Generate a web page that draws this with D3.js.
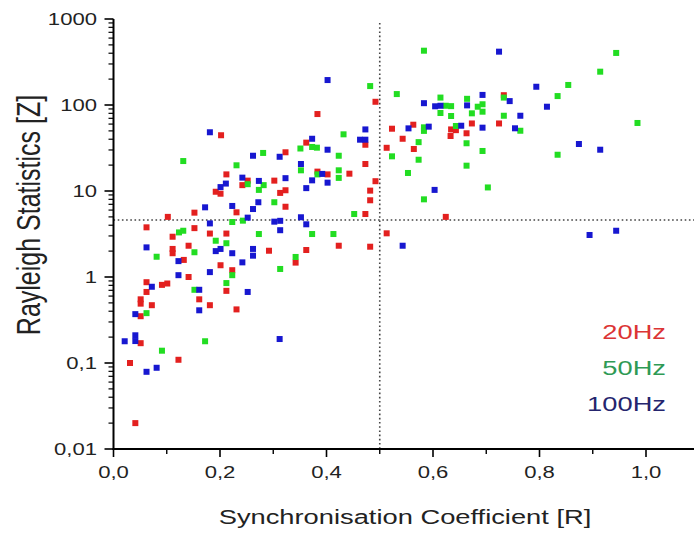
<!DOCTYPE html>
<html><head><meta charset="utf-8">
<script src="https://cdn.jsdelivr.net/npm/d3@7"></script>
<style>body{margin:0;background:#fff}svg{display:block}</style>
</head><body>
<svg id="c" width="694" height="534"></svg>
<script>
// ---- data (R, Z) ----
const red20 = [
[0.202,44.5],[0.323,28.2],[0.212,15.6],[0.252,13.2],[0.242,11.7],[0.302,13.2],[0.323,10.2],[0.313,9.5],
[0.192,9.8],[0.201,9.3],[0.323,6.56],[0.152,5.6],[0.102,5.0],[0.231,5.65],[0.062,3.78],[0.152,3.7],
[0.181,3.2],[0.212,3.2],[0.111,2.94],[0.111,2.12],[0.111,1.89],[0.132,1.58],[0.141,2.31],[0.201,1.37],
[0.223,1.2],[0.292,2.02],[0.342,1.47],[0.141,1.0],[0.062,0.87],[0.062,0.67],[0.091,0.81],[0.101,0.84],
[0.051,0.55],[0.051,0.49],[0.072,0.47],[0.051,0.35],[0.161,0.55],[0.181,0.47],[0.212,0.69],[0.231,0.42],
[0.051,0.17],[0.031,0.10],[0.122,0.109],[0.041,0.02],
[0.383,78.5],[0.492,109],[0.362,36.5],[0.473,34.5],[0.523,53],[0.563,59],[0.543,40.5],[0.513,31.8],
[0.564,30.8],[0.634,52],[0.643,51],[0.633,43.6],[0.673,61],[0.663,46.9],[0.383,16.8],[0.402,15.6],
[0.443,15.9],[0.473,20.6],[0.492,13.0],[0.482,10.1],[0.482,7.8],[0.473,5.4],[0.624,5.0],[0.513,3.22],
[0.362,2.06],[0.423,2.31],[0.482,2.25],[0.733,130],[0.724,61]
];
const green50 = [
[0.131,22.3],[0.281,27.7],[0.351,31.2],[0.231,19.9],[0.252,12.0],[0.282,11.7],[0.273,10.3],[0.302,7.4],
[0.223,4.36],[0.243,4.52],[0.123,3.3],[0.131,3.45],[0.273,3.16],[0.081,1.72],[0.152,1.94],[0.192,2.64],
[0.212,2.47],[0.223,1.05],[0.313,1.24],[0.062,0.38],[0.152,0.71],[0.212,0.85],[0.172,0.179],[0.091,0.139],
[0.342,1.71],
[0.583,428],[0.482,166],[0.532,134],[0.614,122],[0.624,98],[0.634,97],[0.614,80.7],[0.634,74.5],
[0.664,118],[0.684,95.5],[0.693,102],[0.693,83.6],[0.673,80],[0.373,32.5],[0.382,31.9],[0.432,45.6],
[0.583,55],[0.583,50],[0.573,37],[0.523,25.3],[0.573,23.1],[0.553,16.2],[0.583,8.0],[0.703,11.0],
[0.643,57],[0.663,35.9],[0.693,29.2],[0.663,19.7],[0.352,17.4],[0.383,15.6],[0.423,25.7],[0.423,17.4],
[0.423,14.2],[0.452,5.4],[0.373,3.16],[0.413,3.16],
[0.944,403],[0.914,244],[0.854,171],[0.834,127],[0.733,122],[0.733,75],[0.764,50.2],[0.984,61.8],[0.834,26.4]
];
const blue100 = [
[0.181,48.2],[0.262,25.7],[0.312,25],[0.242,14.3],[0.211,12.2],[0.201,11.1],[0.273,13.1],[0.323,14.1],
[0.272,7.4],[0.172,6.46],[0.223,6.7],[0.262,6.17],[0.252,4.9],[0.181,4.2],[0.302,4.4],[0.313,4.5],
[0.313,3.5],[0.062,2.21],[0.122,1.53],[0.192,2.0],[0.201,2.12],[0.223,1.89],[0.181,1.14],[0.242,1.48],
[0.262,2.12],[0.262,1.77],[0.122,1.05],[0.072,0.77],[0.041,0.37],[0.161,0.71],[0.161,0.41],[0.252,0.67],
[0.312,0.19],[0.021,0.179],[0.041,0.21],[0.041,0.18],[0.062,0.079],[0.081,0.088],
[0.402,195],[0.583,105],[0.604,96.6],[0.614,98],[0.664,99],[0.693,131],[0.402,30.2],[0.373,40.5],
[0.473,52],[0.463,39.5],[0.473,39.5],[0.554,53.5],[0.592,56],[0.603,10.3],[0.653,57.4],[0.693,54.5],
[0.352,20.6],[0.362,10.8],[0.373,13.3],[0.392,15.8],[0.402,12.5],[0.352,4.95],[0.362,4.1],[0.543,2.31],
[0.724,417],[0.794,163],[0.744,111],[0.814,95.5],[0.764,75],[0.754,53.6],[0.874,35.2],[0.914,30.2],
[0.894,3.08],[0.944,3.45]
];
const seriesNames = ["20Hz","50Hz","100Hz"];
const xTicks = [0,0.2,0.4,0.6,0.8,1.0];
const xTickLabels = ["0,0","0,2","0,4","0,6","0,8","1,0"];
const yTicks = [0.01,0.1,1,10,100,1000];
const yTickLabels = ["0,01","0,1","1","10","100","1000"];
const thresholdZ = 4.6;
const thresholdR = 0.5;
const xTitle = "Synchronisation Coefficient [R]";
const yTitle = "Rayleigh Statistics [Z]";

// ---- drawing ----
const svg = d3.select("#c");
const x = d3.scaleLinear().domain([0,1.1]).range([113.5, 699.25]);
const y = d3.scaleLog().domain([0.01,1000]).range([449,19]);
const markColors = ["#e3201f","#22dd22","#1717d0"];
const textColors = ["#dc3535","#2f9a55","#25256e"];
const SX = 1.3; // horizontal stretch of the original figure's text

// threshold lines
svg.append("line").attr("x1",x(0)).attr("x2",694).attr("y1",y(thresholdZ)).attr("y2",y(thresholdZ))
  .attr("stroke","#444").attr("stroke-width",1.6).attr("stroke-dasharray","1.6,2.6");
svg.append("line").attr("x1",x(thresholdR)).attr("x2",x(thresholdR)).attr("y1",y(1000)+4).attr("y2",y(0.01))
  .attr("stroke","#444").attr("stroke-width",1.6).attr("stroke-dasharray","1.6,2.6");

// points
[red20, green50, blue100].forEach((arr,i)=>{
  svg.append("g").selectAll("rect").data(arr).join("rect")
    .attr("x",d=>x(d[0])-3).attr("y",d=>y(d[1])-3).attr("width",6).attr("height",6)
    .attr("fill",markColors[i]);
});

// y axis
const yMinor = [];
for (let e=-2;e<3;e++) for (let k=2;k<10;k++) yMinor.push(k*Math.pow(10,e));
const ax = svg.append("g").attr("stroke","#000");
ax.append("line").attr("x1",x(0)).attr("x2",x(0)).attr("y1",y(1000)).attr("y2",y(0.01)+1).attr("stroke-width",2);
ax.selectAll(".ymn").data(yMinor).join("line").attr("x1",x(0)-5).attr("x2",x(0)).attr("y1",d=>y(d)).attr("y2",d=>y(d)).attr("stroke-width",1.2);
ax.selectAll(".ymj").data(yTicks).join("line").attr("x1",x(0)-9).attr("x2",x(0)).attr("y1",d=>y(d)).attr("y2",d=>y(d)).attr("stroke-width",1.6);
// x axis
const xMinor = d3.range(1,11,2).map(v=>v/10);
ax.append("line").attr("x1",x(0)-1).attr("x2",694).attr("y1",y(0.01)).attr("y2",y(0.01)).attr("stroke-width",2);
ax.selectAll(".xmn").data(xMinor).join("line").attr("x1",d=>x(d)).attr("x2",d=>x(d)).attr("y1",y(0.01)).attr("y2",y(0.01)+5).attr("stroke-width",1.4);
ax.selectAll(".xmj").data(xTicks).join("line").attr("x1",d=>x(d)).attr("x2",d=>x(d)).attr("y1",y(0.01)).attr("y2",y(0.01)+8).attr("stroke-width",1.6);

const font = "Liberation Sans, Arial, sans-serif";
function stext(px,py,txt,size,anchor,color){
  const g = svg.append("g").attr("transform",`translate(${px},${py}) scale(${SX},1)`);
  g.append("text").attr("font-family",font).attr("font-size",size).attr("fill",color||"#222")
    .attr("text-anchor",anchor).text(txt);
  return g;
}
yTicks.forEach((v,i)=>stext(97,y(v)+6,yTickLabels[i],17,"end"));
xTicks.forEach((v,i)=>stext(x(v),478,xTickLabels[i],17,"middle"));
stext(405,524,xTitle,21,"middle");
svg.append("g").attr("transform",`translate(40,215) scale(${SX},1) rotate(-90)`)
  .append("text").attr("font-family",font).attr("font-size",25).attr("fill","#222")
  .attr("text-anchor","middle").text(yTitle);

// legend
seriesNames.forEach((n,i)=>stext(666,339+i*36,n,21,"end",textColors[i]));
</script>
</body></html>
